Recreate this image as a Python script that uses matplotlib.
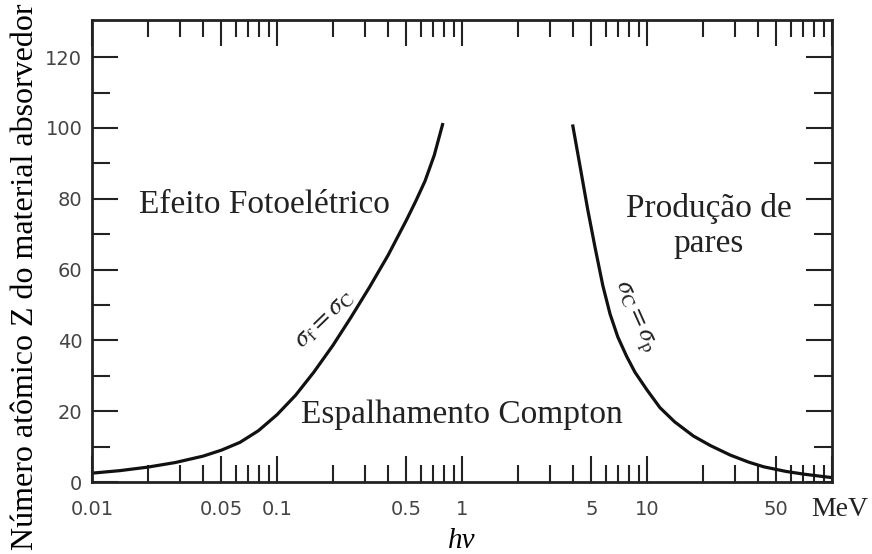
import numpy as np
import matplotlib
matplotlib.use('Agg')
import matplotlib.pyplot as plt
from matplotlib.ticker import FixedLocator, FixedFormatter, NullFormatter

plt.rcParams['mathtext.fontset'] = 'stix'

# Fronteira efeito fotoelétrico / Compton (sigma_f = sigma_C)
E_foto = [0.01, 0.0141, 0.02, 0.0282, 0.0398, 0.0501, 0.0631, 0.0794, 0.1,
          0.126, 0.158, 0.2, 0.251, 0.316, 0.398, 0.501, 0.562, 0.631, 0.708, 0.789]
Z_foto = [2.5, 3.2, 4.2, 5.5, 7.3, 9.0, 11.2, 14.5, 19,
          24.5, 31, 38.5, 46.5, 55, 64, 74, 79.3, 85, 92.3, 101.4]

# Fronteira Compton / produção de pares (sigma_C = sigma_p)
E_pares = [3.96, 4.37, 4.78, 5.25, 5.77, 6.31, 6.95, 7.76, 8.61, 10,
           11.75, 14.1, 17.8, 22, 28.2, 35.5, 42.7, 56.2, 70.8, 89.1, 100]
Z_pares = [101, 88.5, 77, 66, 55.5, 47.5, 41, 35.5, 31, 26,
           21, 17, 13, 10.3, 7.6, 5.6, 4.3, 3.0, 2.2, 1.55, 1.25]

x_major = [0.01, 0.05, 0.1, 0.5, 1, 5, 10, 50, 100]
x_major_labels = ['0.01', '0.05', '0.1', '0.5', '1', '5', '10', '50', '']
x_minor = [m * d for d in [0.01, 0.1, 1, 10] for m in [2, 3, 4, 6, 7, 8, 9]]
y_major = [0, 20, 40, 60, 80, 100, 120]
y_minor = [10, 30, 50, 70, 90, 110]

serif = 'Liberation Serif'

fig = plt.figure(figsize=(8.72, 5.54), dpi=100)
ax = fig.add_axes([92 / 872, 72 / 554, 740 / 872, 462 / 554])

ax.plot(E_foto, Z_foto, color='#111111', lw=2.3, solid_capstyle='butt',
        solid_joinstyle='round')
ax.plot(E_pares, Z_pares, color='#111111', lw=2.3, solid_capstyle='butt',
        solid_joinstyle='round')

ax.set_xscale('log')
ax.set_xlim(0.01, 100)
ax.set_ylim(0, 130.5)

ax.xaxis.set_major_locator(FixedLocator(x_major))
ax.xaxis.set_major_formatter(FixedFormatter(x_major_labels))
ax.xaxis.set_minor_locator(FixedLocator(x_minor))
ax.xaxis.set_minor_formatter(NullFormatter())
ax.yaxis.set_major_locator(FixedLocator(y_major))
ax.yaxis.set_minor_locator(FixedLocator(y_minor))

for s in ax.spines.values():
    s.set_linewidth(2.0)
    s.set_color('#222222')

ax.tick_params(axis='both', which='both', direction='in', top=True, right=True,
               width=1.5, color='#222222')
ax.tick_params(axis='x', which='major', length=19, pad=13, labelsize=14, labelcolor='#444444')
ax.tick_params(axis='x', which='minor', length=12)
ax.tick_params(axis='y', which='major', length=19, pad=7, labelsize=14, labelcolor='#444444')
ax.tick_params(axis='y', which='minor', length=13)

ax.set_ylabel('Número atômico Z do material absorvedor', family=serif, fontsize=23)
ax.yaxis.set_label_coords(-0.07, 0.445)
ax.set_xlabel('hν', family=serif, fontsize=21, style='italic')
ax.xaxis.set_label_coords(0.5, -0.10)

fig.text(840 / 872, 1 - 510 / 554, 'MeV', family=serif, fontsize=20,
         ha='center', va='center', color='#222222')

ax.text(0.085, 76, 'Efeito Fotoelétrico', family=serif, fontsize=24,
        ha='center', va='baseline', color='#222222')
ax.text(21.5, 65, 'Produção de\npares', family=serif, fontsize=24,
        ha='center', va='baseline', multialignment='center', linespacing=1.2,
        color='#222222')
ax.text(1.0, 16.7, 'Espalhamento Compton', family=serif, fontsize=24,
        ha='center', va='baseline', color='#222222')

ax.text(0.178, 46.3, r'$\sigma_{\mathrm{f}} = \sigma_{\mathrm{C}}$', fontsize=19,
        ha='center', va='center', rotation=44, color='#222222')
ax.text(8.6, 46.6, r'$\sigma_{\mathrm{C}} = \sigma_{\mathrm{p}}$', fontsize=19,
        ha='center', va='center', rotation=-66, color='#222222')

fig.savefig('out.png', dpi=100)
